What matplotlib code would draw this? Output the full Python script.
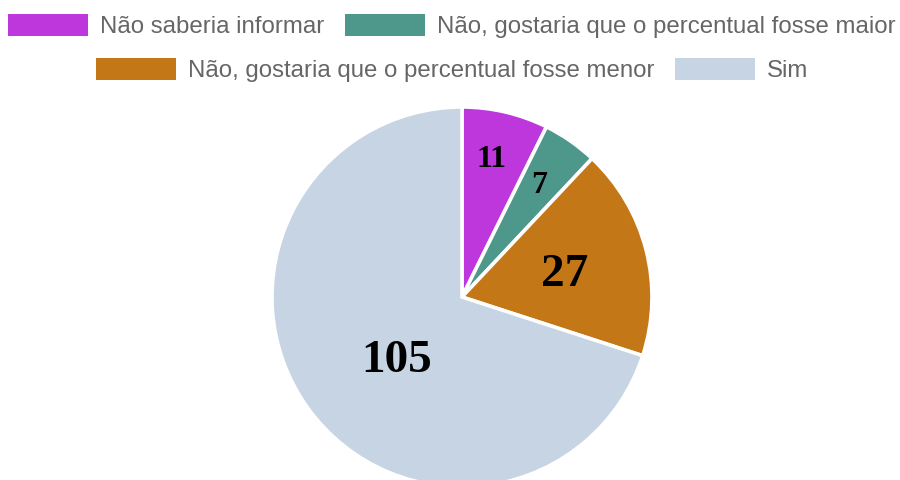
import matplotlib
matplotlib.use("Agg")
import matplotlib.pyplot as plt
from matplotlib.patches import Patch
import numpy as np

categories = ["Não saberia informar", "Não, gostaria que o percentual fosse maior",
              "Não, gostaria que o percentual fosse menor", "Sim"]
values = [11, 7, 27, 105]
colors = ["#BD37DC", "#4E978B", "#C47716", "#C6D4E3"]
label_sizes = [23, 23, 34, 34]
label_radius = [0.76, 0.73, 0.56, 0.47]
label_angle_shift = [1.5, 1.0, 0.0, 6.5]

W, H = 900, 480
fig = plt.figure(figsize=(W / 100, H / 100), dpi=100)
ax = fig.add_axes([0, 0, 1, 1])
cx, cy, R = 462, 297, 190

wedges, _ = ax.pie(values, colors=colors, startangle=90, counterclock=False,
                   radius=1.0, center=(0, 0),
                   wedgeprops=dict(edgecolor="white", linewidth=2.6))
ax.set_xlim(-cx / R, (W - cx) / R)
ax.set_ylim((cy - H) / R, cy / R)
ax.set_aspect("auto")
ax.axis("off")

for w, v, s, r, da in zip(wedges, values, label_sizes, label_radius, label_angle_shift):
    mid = np.deg2rad((w.theta1 + w.theta2) / 2 + da)
    ax.annotate(str(v), xy=(r * np.cos(mid), r * np.sin(mid)),
                xytext=(0, -4), textcoords="offset pixels",
                ha="center", va="center",
                fontsize=s, fontweight="bold", family="Liberation Serif", color="black")

handles = [Patch(facecolor=c, edgecolor="none") for c in colors]
fs = 17.3
common = dict(frameon=False, handlelength=80 / (fs * 100 / 72), handleheight=1.0,
              handletextpad=0.5, columnspacing=0.85, borderpad=0, borderaxespad=0,
              prop=dict(family="Liberation Sans", size=fs), labelcolor="#666666")
leg1 = fig.legend(handles[:2], categories[:2], ncol=2, loc="center",
                  bbox_to_anchor=(0.502, 1 - 26 / H), **common)
leg2 = fig.legend(handles[2:], categories[2:], ncol=2, loc="center",
                  bbox_to_anchor=(0.502, 1 - 70 / H), **common)

fig.savefig("out.png", dpi=100, facecolor="white")
